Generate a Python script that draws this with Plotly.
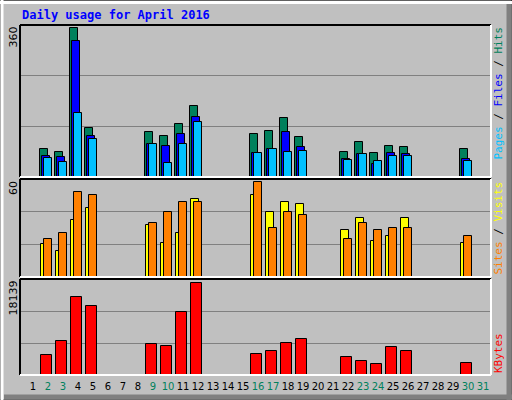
import plotly.graph_objects as go

DAYS = [2, 3, 4, 5, 9, 10, 11, 12, 16, 17, 18, 19, 22, 23, 24, 25, 26, 30]
HITS = [67, 60, 353, 115, 106, 96, 125, 168, 101, 108, 139, 94, 60, 82, 58, 74, 70, 67]
FILES = [50, 48, 322, 96, 77, 74, 103, 142, 58, 67, 106, 72, 43, 55, 31, 58, 55, 43]
PAGES = [46, 36, 151, 91, 77, 34, 77, 130, 58, 67, 60, 62, 41, 55, 38, 50, 50, 38]
VISITS = [20, 16, 35, 42, 32, 21, 27, 48, 50, 40, 46, 45, 29, 36, 22, 25, 36, 21]
SITES = [23, 27, 52, 50, 33, 40, 46, 46, 58, 30, 40, 38, 23, 33, 29, 30, 30, 25]
KBYTES = [3820, 6490, 14700, 13000, 5920, 5540, 11840, 17380, 4010, 4580,
          6110, 6880, 3440, 2670, 2100, 5350, 4580, 2290]
WEEKENDS = [2, 3, 9, 10, 16, 17, 23, 24, 30, 31]
MAX_HITS = 360
MAX_VISITS = 60
MAX_KBYTES = 18139

C_HIT, C_FILE, C_PAGE = "#00805c", "#0000ff", "#00c0ff"
C_VISIT, C_SITE, C_KB = "#ffff00", "#ff8000", "#ff0000"
MONO = "DejaVu Sans Mono"

X0, X1 = 20 / 512, 491 / 512
PANELS = [(25, 177), (179, 277), (279, 375)]


def dom(top, bot):
    return [1 - bot / 400, 1 - top / 400]


fig = go.Figure()


def bars(vals, color, off, width, axis):
    fig.add_trace(go.Bar(
        x=[d + off for d in DAYS], y=vals, width=width,
        marker=dict(color=color, line=dict(color="black", width=1)),
        xaxis=axis[0], yaxis=axis[1], showlegend=False,
    ))


bars(HITS, C_HIT, -4 / 15, 8 / 15, ("x", "y"))
bars(FILES, C_FILE, -2 / 15, 8 / 15, ("x", "y"))
bars(PAGES, C_PAGE, 0, 8 / 15, ("x", "y"))
bars(VISITS, C_VISIT, -3 / 15, 8 / 15, ("x2", "y2"))
bars(SITES, C_SITE, 0, 8 / 15, ("x2", "y2"))
bars(KBYTES, C_KB, -1.5 / 15, 11 / 15, ("x3", "y3"))

xr = [1 - 13 / 15, 31 + 8 / 15]
ticktext = [
    f"<span style='color:{'#00805c' if d in WEEKENDS else 'black'}'>{d}</span>"
    for d in range(1, 32)
]
ax_common = dict(range=xr, domain=[X0, X1], showgrid=False, zeroline=False,
                 fixedrange=True)
fig.update_layout(
    xaxis=dict(**ax_common, anchor="y", showticklabels=False),
    xaxis2=dict(**ax_common, anchor="y2", showticklabels=False),
    xaxis3=dict(**ax_common, anchor="y3", tickvals=list(range(1, 32)),
                ticktext=ticktext, ticks="", tickangle=0, ticklabelstandoff=4,
                tickfont=dict(family="DejaVu Sans", size=10, color="black")),
)
for i, (mx, (t, b)) in enumerate(zip([MAX_HITS, MAX_VISITS, MAX_KBYTES], PANELS)):
    key = "yaxis" if i == 0 else f"yaxis{i + 1}"
    fig.layout[key] = dict(
        domain=dom(t, b), range=[0, mx], anchor=f"x{'' if i == 0 else i + 1}",
        tickvals=[mx / 3, 2 * mx / 3], showticklabels=False,
        gridcolor="#808080", gridwidth=1, zeroline=False, fixedrange=True,
    )

shapes = []
# outer frame
shapes.append(dict(type="rect", xref="paper", yref="paper", x0=0, x1=1, y0=0, y1=1,
                   line=dict(color="black", width=1)))
shapes.append(dict(type="line", xref="paper", yref="paper", x0=2 / 512, x1=2 / 512,
                   y0=0, y1=1, line=dict(color="white", width=3)))
shapes.append(dict(type="line", xref="paper", yref="paper", x0=0, x1=1,
                   y0=1 - 2.5 / 400, y1=1 - 2.5 / 400, line=dict(color="white", width=3)))
shapes.append(dict(type="line", xref="paper", yref="paper", x0=1 - 3 / 512, x1=1 - 3 / 512,
                   y0=0, y1=1 - 4 / 400, line=dict(color="#808080", width=5)))
shapes.append(dict(type="line", xref="paper", yref="paper", x0=4 / 512, x1=1,
                   y0=3 / 400, y1=3 / 400, line=dict(color="#808080", width=5)))
for t, b in PANELS:
    yt, yb = 1 - t / 400, 1 - b / 400
    for x0, y0, x1, y1, c in [(X0, yt, X1, yt, "black"), (X0, yb, X0, yt, "black"),
                              (X0, yb, X1, yb, "white"), (X1, yb, X1, yt, "white")]:
        shapes.append(dict(type="line", xref="paper", yref="paper",
                           x0=x0, y0=y0, x1=x1, y1=y1, line=dict(color=c, width=2)))

ann = [dict(text="Daily usage for April 2016", x=20 / 512, y=1 - 15 / 400,
            xanchor="left", yanchor="middle",
            font=dict(family=MONO, size=12, color="#0000ff", weight="bold"))]
for label, (t, b) in zip(["360", "60", "18139"], PANELS):
    ann.append(dict(text=label, x=13 / 512, y=1 - t / 400, textangle=-90,
                    xanchor="center", yanchor="top",
                    font=dict(family="DejaVu Sans", size=11, color="black")))
right = [
    (f"<span style='color:{C_PAGE}'>Pages</span> / <span style='color:{C_FILE}'>Files</span>"
     f" / <span style='color:{C_HIT}'>Hits</span>", PANELS[0][0], "top"),
    (f"<span style='color:{C_SITE}'>Sites</span> / <span style='color:{C_VISIT}'>Visits</span>",
     PANELS[1][1], "bottom"),
    (f"<span style='color:{C_KB}'>KBytes</span>", PANELS[2][1], "bottom"),
]
for text, yy, anc in right:
    ann.append(dict(text=text, x=498 / 512, y=1 - yy / 400, textangle=-90,
                    xanchor="center", yanchor=anc,
                    font=dict(family=MONO, size=11, color="black")))
for a in ann:
    a.update(xref="paper", yref="paper", showarrow=False)

fig.update_layout(
    width=512, height=400, margin=dict(l=0, r=0, t=0, b=0),
    paper_bgcolor="#c0c0c0", plot_bgcolor="#c0c0c0",
    barmode="overlay", shapes=shapes, annotations=ann, bargap=0,
)
fig.write_html(
    "out.html", config={"displayModeBar": False},
    post_script="document.body.style.margin='0';document.body.style.overflow='hidden';",
)
